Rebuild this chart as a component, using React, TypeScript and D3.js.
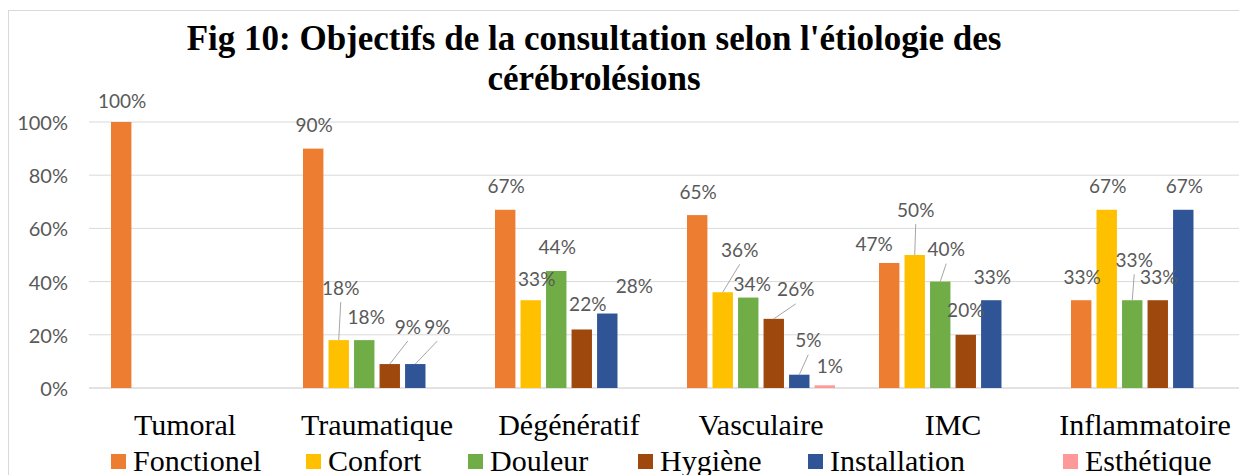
import * as d3 from "d3"

// categories and series
const categories = ["Tumoral", "Traumatique", "Dégénératif", "Vasculaire", "IMC", "Inflammatoire"]
const seriesNames = ["Fonctionel", "Confort", "Douleur", "Hygiène", "Installation", "Esthétique"]

const fonctionel = [100, 90, 67, 65, 47, 33]
const confort = [0, 18, 33, 36, 50, 67]
const douleur = [0, 18, 44, 34, 40, 33]
const hygiene = [0, 9, 22, 26, 20, 33]
const installation = [0, 9, 28, 5, 33, 67]
const esthetique = [0, 0, 0, 1, 0, 0]

const yTicks = [0, 20, 40, 60, 80, 100]

const seriesValues = [fonctionel, confort, douleur, hygiene, installation, esthetique]
const colors = ["#ED7D31", "#FFC000", "#70AD47", "#9E480E", "#2F5597", "#FF9999"]

// manual data label placement (dx, dy from bar top, leader line)
const labelNudge: Record<string, [number, number, boolean]> = {
  "Confort|Traumatique": [2, -53, true],
  "Douleur|Traumatique": [2, -24, false],
  "Hygiène|Traumatique": [18, -38, true],
  "Installation|Traumatique": [22, -38, true],
  "Confort|Dégénératif": [6, -22, false],
  "Hygiène|Dégénératif": [6, -26, false],
  "Installation|Dégénératif": [27, -28, false],
  "Confort|Vasculaire": [17, -43, true],
  "Douleur|Vasculaire": [4, -14, false],
  "Hygiène|Vasculaire": [22, -30, true],
  "Installation|Vasculaire": [9, -35, true],
  "Esthétique|Vasculaire": [5, -20, false],
  "Fonctionel|IMC": [-15, -19, false],
  "Confort|IMC": [1, -46, true],
  "Douleur|IMC": [6, -33, true],
  "Hygiène|IMC": [0, -25, false],
  "Douleur|Inflammatoire": [2, -41, true],
  "Fonctionel|Tumoral": [1, -22, false],
}

const legendX = [111, 306, 468, 638, 808, 1063]

const W = 1239
const H = 475

export default function App() {
  const x0 = d3.scaleBand<string>().domain(categories).range([89, 1241]).padding(0)
  const x1 = d3.scaleBand<string>().domain(seriesNames).range([22, 170]).paddingInner(0.2).paddingOuter(0)
  const y = d3.scaleLinear().domain([0, 100]).range([388, 122])
  const bw = x1.bandwidth()

  const bars: JSX.Element[] = []
  const labels: JSX.Element[] = []
  seriesNames.forEach((s, si) => {
    categories.forEach((c, ci) => {
      const v = seriesValues[si][ci]
      if (!v) return
      const bx = (x0(c) ?? 0) + (x1(s) ?? 0)
      const top = y(v)
      bars.push(
        <rect key={`b-${s}-${c}`} x={bx} y={top} width={bw} height={y(0) - top} fill={colors[si]} />
      )
      const [dx, dy, leader] = labelNudge[`${s}|${c}`] ?? [1, -24, false]
      const cx = bx + bw / 2
      const lx = cx + dx
      const ly = top + dy
      if (leader) {
        labels.push(
          <line key={`l-${s}-${c}`} x1={lx} y1={ly + 15} x2={cx} y2={top} stroke="#a6a6a6" strokeWidth={1} />
        )
      }
      labels.push(
        <text
          key={`t-${s}-${c}`}
          x={lx}
          y={ly}
          textAnchor="middle"
          dominantBaseline="central"
          fontFamily="Lato, sans-serif"
          fontSize={19}
          fill="#595959"
        >
          {v}%
        </text>
      )
    })
  })

  return (
    <div style={{ position: "absolute", left: 0, top: 0 }}>
      <svg width={W} height={H} style={{ display: "block" }}>
        <rect x={0} y={0} width={W} height={H} fill="#ffffff" />
        <rect x={8.5} y={10.5} width={1300} height={600} fill="none" stroke="#d9d9d9" />

        <text x={594} y={50} textAnchor="middle" fontFamily="'Liberation Serif', 'Times New Roman', serif" fontWeight="bold" fontSize={35} fill="#000">
          Fig 10: Objectifs de la consultation selon l'étiologie des
        </text>
        <text x={594} y={90} textAnchor="middle" fontFamily="'Liberation Serif', 'Times New Roman', serif" fontWeight="bold" fontSize={35} fill="#000">
          cérébrolésions
        </text>

        {yTicks.map((t) => (
          <g key={`g-${t}`}>
            <line x1={89} x2={1241} y1={y(t)} y2={y(t)} stroke="#d9d9d9" strokeWidth={t === 0 ? 1.5 : 1} />
            <text x={68} y={y(t)} textAnchor="end" dominantBaseline="central" fontFamily="Lato, sans-serif" fontSize={20} fill="#595959">
              {t}%
            </text>
          </g>
        ))}

        {bars}
        {labels}

        {categories.map((c) => (
          <text
            key={`c-${c}`}
            x={(x0(c) ?? 0) + x0.bandwidth() / 2}
            y={435}
            textAnchor="middle"
            fontFamily="'Liberation Serif', 'Times New Roman', serif"
            fontSize={30}
            fill="#000"
          >
            {c}
          </text>
        ))}

        {seriesNames.map((s, i) => (
          <g key={`lg-${s}`}>
            <rect x={legendX[i]} y={454} width={15} height={15} fill={colors[i]} />
            <text x={legendX[i] + 22} y={471} fontFamily="'Liberation Serif', 'Times New Roman', serif" fontSize={30} fill="#000">
              {s}
            </text>
          </g>
        ))}
      </svg>
    </div>
  )
}
